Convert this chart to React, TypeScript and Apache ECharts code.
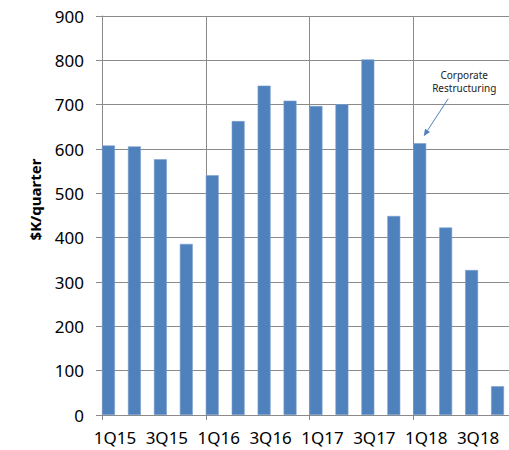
import React, { useEffect, useRef } from "react";
import * as echarts from "echarts";

// Quarterly spend, $K per quarter
const quarters = [
  "1Q15", "2Q15", "3Q15", "4Q15",
  "1Q16", "2Q16", "3Q16", "4Q16",
  "1Q17", "2Q17", "3Q17", "4Q17",
  "1Q18", "2Q18", "3Q18", "4Q18",
];
const spend = [608, 606, 577, 386, 541, 663, 743, 709, 697, 701, 802, 449, 613, 423, 327, 65];
const yTicks = { min: 0, max: 900, interval: 100 };
const annotationLines = ["Corporate", "Restructuring"];
const annotatedQuarter = "1Q18";

const GRID_COLOR = "#8a8a8a";
const BAR_COLOR = "#4f81bd";
const FONT = "'Noto Sans', 'Liberation Sans', sans-serif";

export default function App() {
  const ref = useRef<HTMLDivElement>(null);

  useEffect(() => {
    if (!ref.current) return;
    const chart = echarts.init(ref.current, null, { renderer: "svg" });

    chart.setOption({
      animation: false,
      backgroundColor: "#ffffff",
      grid: { left: 102, top: 16, bottom: 35, right: -8, containLabel: false, outerBoundsMode: "none" },
      xAxis: {
        type: "category",
        data: quarters,
        boundaryGap: true,
        axisLine: { show: true, lineStyle: { color: GRID_COLOR, width: 1 } },
        axisTick: { show: true, interval: 3, length: 5, alignWithLabel: false, lineStyle: { color: GRID_COLOR } },
        splitLine: { show: true, interval: 3, lineStyle: { color: GRID_COLOR, width: 1 } },
        axisLabel: { interval: 1, color: "#000", fontSize: 17, fontFamily: FONT, margin: 14 },
      },
      yAxis: {
        type: "value",
        min: yTicks.min,
        max: yTicks.max,
        interval: yTicks.interval,
        name: "$K/quarter",
        nameLocation: "middle",
        nameGap: 60,
        nameRotate: 90,
        nameTextStyle: { fontSize: 15, fontWeight: "bold", color: "#000", fontFamily: FONT, padding: [0, 0, 0, 32] },
        axisLine: { show: true, lineStyle: { color: GRID_COLOR, width: 1 } },
        axisTick: { show: true, inside: false, length: 6, lineStyle: { color: GRID_COLOR } },
        splitLine: { show: true, lineStyle: { color: GRID_COLOR, width: 1 } },
        axisLabel: { color: "#000", fontSize: 17, fontFamily: FONT, margin: 18 },
      },
      series: [
        {
          type: "bar",
          data: spend,
          barGap: "0%",
          barCategoryGap: "0%",
          itemStyle: { color: BAR_COLOR, borderColor: "#7fa3d0", borderWidth: 0.6 },
        },
        {
          // empty companion series keeps each bar in the left half of its slot
          type: "bar",
          data: quarters.map(() => null),
          barGap: "0%",
          barCategoryGap: "0%",
          itemStyle: { color: "transparent" },
        },
      ],
    });

    // Annotation arrow pointing at the 1Q18 bar
    const idx = quarters.indexOf(annotatedQuarter);
    const top = chart.convertToPixel({ gridIndex: 0 }, [idx, spend[idx]]) as number[];
    const slotCenter = chart.convertToPixel({ gridIndex: 0 }, [idx, 0]) as number[];
    const barCenterX = slotCenter[0] - 6.5;
    const tip = [barCenterX + 4, top[1] - 7];
    const tail = [tip[0] + 24.5, tip[1] - 37.5];
    const dx = tip[0] - tail[0];
    const dy = tip[1] - tail[1];
    const len = Math.hypot(dx, dy);
    const ux = dx / len;
    const uy = dy / len;
    const headLen = 7;
    const headW = 3;
    const base = [tip[0] - ux * headLen, tip[1] - uy * headLen];
    const textX = tail[0] + 16;

    chart.setOption({
      graphic: [
        {
          type: "line",
          shape: { x1: tail[0], y1: tail[1], x2: base[0], y2: base[1] },
          style: { stroke: BAR_COLOR, lineWidth: 1 },
          z: 100,
        },
        {
          type: "polygon",
          shape: {
            points: [
              [tip[0], tip[1]],
              [base[0] - uy * headW, base[1] + ux * headW],
              [base[0] + uy * headW, base[1] - ux * headW],
            ],
          },
          style: { fill: BAR_COLOR },
          z: 100,
        },
        {
          type: "text",
          x: textX,
          y: tail[1] - 30,
          style: {
            text: annotationLines.join("\n"),
            fontSize: 10,
            lineHeight: 13,
            fontFamily: FONT,
            fill: "#222",
            align: "center",
            verticalAlign: "top",
          },
          z: 100,
        },
      ],
    });

    return () => chart.dispose();
  }, []);

  return (
    <div
      ref={ref}
      style={{ position: "absolute", left: 0, top: 0, width: 509, height: 450 }}
    />
  );
}
